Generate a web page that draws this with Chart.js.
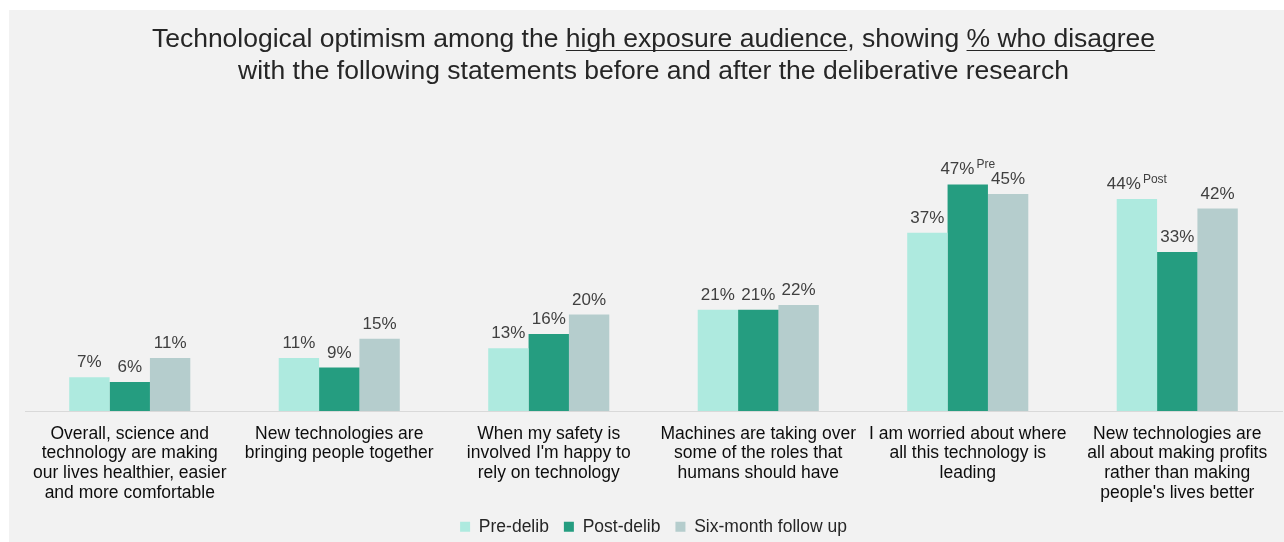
<!DOCTYPE html>
<html>
<head>
<meta charset="utf-8">
<script src="https://cdn.jsdelivr.net/npm/chart.js@4/dist/chart.umd.min.js"></script>
<style>
  html, body { margin: 0; padding: 0; background: #ffffff; }
  #wrap { width: 1284px; height: 542px; position: relative; }
  canvas { display: block; }
</style>
</head>
<body>
<div id="wrap"><canvas id="chart" width="1284" height="542"></canvas></div>
<script>
// Statements (one label per group, wrapped into lines)
const categories = [
  ['Overall, science and', 'technology are making', 'our lives healthier, easier', 'and more comfortable'],
  ['New technologies are', 'bringing people together'],
  ['When my safety is', "involved I'm happy to", 'rely on technology'],
  ['Machines are taking over', 'some of the roles that', 'humans should have'],
  ['I am worried about where', 'all this technology is', 'leading'],
  ['New technologies are', 'all about making profits', 'rather than making', "people's lives better"]
];

// % who disagree, per wave
const preDelib  = [7, 11, 13, 21, 37, 44];
const postDelib = [6, 9, 16, 21, 47, 33];
const sixMonth  = [11, 15, 20, 22, 45, 42];

const seriesNames = ['Pre-delib', 'Post-delib', 'Six-month follow up'];

// Significance notes shown as superscripts after a value
const preNotes  = ['', '', '', '', '', 'Post'];
const postNotes = ['', '', '', '', 'Pre', ''];
const sixNotes  = ['', '', '', '', '', ''];

const titleLine1 = [
  ['Technological optimism among the ', false],
  ['high exposure audience', true],
  [', showing ', false],
  ['% who disagree', true]
];
const titleLine2 = [
  ['with the following statements before and after the deliberative research', false]
];

const FONT = '"Liberation Sans", Arial, sans-serif';

const panelBackground = {
  id: 'panelBackground',
  beforeDraw(chart) {
    const ctx = chart.ctx;
    ctx.save();
    ctx.fillStyle = '#f2f2f2';
    ctx.fillRect(9, 10, chart.width - 9, chart.height - 10);
    ctx.restore();
  }
};

const underlinedTitle = {
  id: 'underlinedTitle',
  afterDraw(chart) {
    const ctx = chart.ctx;
    const area = chart.chartArea;
    const cx = (area.left + area.right) / 2;
    ctx.save();
    ctx.font = '26.5px ' + FONT;
    ctx.fillStyle = '#262626';
    ctx.strokeStyle = '#262626';
    ctx.lineWidth = 1.2;
    ctx.textBaseline = 'alphabetic';
    ctx.textAlign = 'left';
    const drawLine = (parts, baseY) => {
      const total = parts.reduce((s, p) => s + ctx.measureText(p[0]).width, 0);
      let x = cx - total / 2;
      parts.forEach(([txt, ul]) => {
        const w = ctx.measureText(txt).width;
        ctx.fillText(txt, x, baseY);
        if (ul) {
          ctx.beginPath();
          ctx.moveTo(x, baseY + 3.5);
          ctx.lineTo(x + w, baseY + 3.5);
          ctx.stroke();
        }
        x += w;
      });
    };
    drawLine(titleLine1, 47);
    drawLine(titleLine2, 79);
    ctx.restore();
  }
};

const valueLabels = {
  id: 'valueLabels',
  afterDatasetsDraw(chart) {
    const ctx = chart.ctx;
    ctx.save();
    chart.data.datasets.forEach((ds, di) => {
      const meta = chart.getDatasetMeta(di);
      meta.data.forEach((bar, i) => {
        const txt = ds.data[i] + '%';
        const note = ds.notes[i];
        ctx.textBaseline = 'alphabetic';
        ctx.textAlign = 'left';
        ctx.fillStyle = '#404040';
        ctx.font = '12px ' + FONT;
        const nw = note ? ctx.measureText(note).width + 2 : 0;
        ctx.font = '17px ' + FONT;
        const w = ctx.measureText(txt).width;
        const y = bar.y - 10;
        // value and its note are centred together over the bar
        const x0 = bar.x - (w + nw) / 2;
        ctx.fillText(txt, x0, y);
        if (note) {
          ctx.font = '12px ' + FONT;
          ctx.fillText(note, x0 + w + 2, y - 6);
        }
      });
    });
    ctx.restore();
  }
};

new Chart(document.getElementById('chart'), {
  type: 'bar',
  data: {
    labels: categories,
    datasets: [
      { label: seriesNames[0], data: preDelib,  notes: preNotes,  backgroundColor: '#aeeadf' },
      { label: seriesNames[1], data: postDelib, notes: postNotes, backgroundColor: '#259d80' },
      { label: seriesNames[2], data: sixMonth,  notes: sixNotes,  backgroundColor: '#b5cdcd' }
    ]
  },
  options: {
    responsive: false,
    animation: false,
    layout: { padding: { top: 170, left: 25, right: 2, bottom: -3.5 } },
    datasets: {
      bar: { categoryPercentage: 0.578, barPercentage: 1.0, borderWidth: 0 }
    },
    scales: {
      x: {
        grid: { display: false, drawTicks: false },
        border: { display: true, color: '#d9d9d9', width: 1 },
        ticks: {
          color: '#0d0d0d',
          font: { family: FONT, size: 17.5, lineHeight: 1.125 },
          padding: 13,
          maxRotation: 0,
          autoSkip: false
        },
        afterFit(scale) { scale.height = 92; }
      },
      y: { display: false, min: 0, max: 50 }
    },
    plugins: {
      title: { display: false },
      tooltip: { enabled: false },
      legend: {
        position: 'bottom',
        labels: {
          boxWidth: 10,
          boxHeight: 10,
          padding: 15,
          color: '#262626',
          font: { family: FONT, size: 17.5 }
        }
      }
    }
  },
  plugins: [panelBackground, underlinedTitle, valueLabels]
});
</script>
</body>
</html>
